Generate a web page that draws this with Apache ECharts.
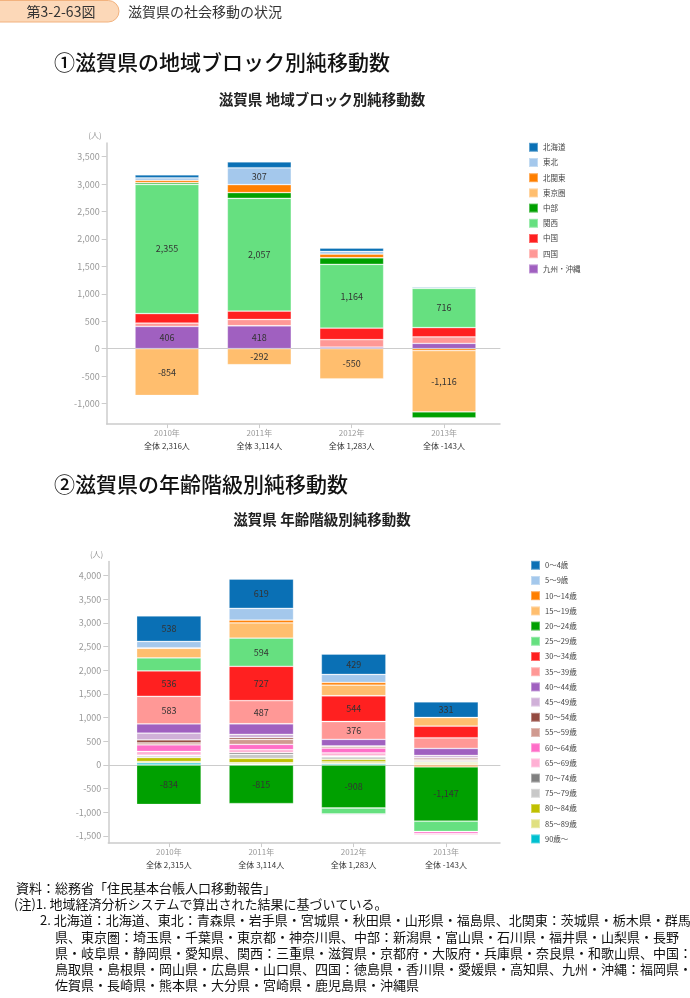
<!DOCTYPE html>
<html><head><meta charset="utf-8">
<script src="https://cdn.jsdelivr.net/npm/echarts@6/dist/echarts.min.js"></script>
<style>html,body{margin:0;padding:0;background:#fff}#c{width:690px;height:998px}</style>
</head><body><div id="c"></div>
<script>
// ---------- data ----------
const years = ['2010年', '2011年', '2012年', '2013年'];

// chart 1: regional blocks
const regionNames = ['北海道', '東北', '北関東', '東京圏', '中部', '関西', '中国', '四国', '九州・沖縄'];
const regionTotals = [2316, 3114, 1283, -143];
const hokkaido = [55, 108, 60, 18];
const tohoku = [48, 307, 50, 0];
const kitakanto = [42, 146, 65, -35];
const tokyoken = [-854, -292, -550, -1116];
const chubu = [30, 103, 120, -110];
const kansai = [2355, 2057, 1164, 716];
const chugoku = [173, 152, 210, 170];
const shikoku = [61, 115, 134, 117];
const kyushu = [406, 418, 30, 97];
const regionValues = [hokkaido, tohoku, kitakanto, tokyoken, chubu, kansai, chugoku, shikoku, kyushu];

// chart 2: age groups
const ageNames = ['0～4歳', '5～9歳', '10～14歳', '15～19歳', '20～24歳', '25～29歳', '30～34歳', '35～39歳', '40～44歳', '45～49歳',
  '50～54歳', '55～59歳', '60～64歳', '65～69歳', '70～74歳', '75～79歳', '80～84歳', '85～89歳', '90歳～'];
const ageTotals = [2315, 3114, 1283, -143];
const age0 = [538, 619, 429, 331];
const age5 = [134, 250, 170, 0];
const age10 = [10, 56, 56, -40];
const age15 = [204, 324, 225, 183];
const age20 = [-834, -815, -908, -1147];
const age25 = [275, 594, -127, -218];
const age30 = [536, 727, 544, 246];
const age35 = [583, 487, 376, 225];
const age40 = [197, 225, 141, 148];
const age45 = [141, 70, -25, 49];
const age50 = [63, 35, 10, 28];
const age55 = [42, 106, 35, 35];
const age60 = [141, 113, 99, -43];
const age65 = [77, 63, 63, -30];
const age70 = [15, 35, 21, 0];
const age75 = [35, 85, 56, 30];
const age80 = [85, 92, 50, 20];
const age85 = [28, 28, 40, 30];
const age90 = [45, 20, 28, 10];
const ageValues = [age0, age5, age10, age15, age20, age25, age30, age35, age40, age45, age50, age55, age60, age65, age70, age75, age80, age85, age90];

const yTicks1 = [-1000, -500, 0, 500, 1000, 1500, 2000, 2500, 3000, 3500];
const yTicks2 = [-1500, -1000, -500, 0, 500, 1000, 1500, 2000, 2500, 3000, 3500, 4000];

// ---------- style ----------
const palette = ['#0a70b5', '#a4c8ec', '#ff7f00', '#ffbe6e', '#00a000', '#66e080', '#ff2020', '#ff9896', '#a060c0',
  '#d0b0d8', '#944a40', '#d09a90', '#ff6ec8', '#ffb0d4', '#808080', '#c8c8c8', '#c0c000', '#e0e080', '#00c0d0'];
const FONT = '"Noto Sans CJK JP", "Noto Sans", sans-serif';
const AXC = '#cccccc';
function fmt(v) { return Number(v).toLocaleString('en-US'); }

function buildSeries(names, values, xIdx, yIdx, stack, bw, thr) {
  const out = [];
  const mk = (i, sign) => ({
    type: 'bar', name: names[i], stack: stack, xAxisIndex: xIdx, yAxisIndex: yIdx,
    barWidth: bw,
    itemStyle: { color: palette[i], borderColor: 'rgba(255,255,255,0.35)', borderWidth: 0.8 },
    label: {
      show: true, position: 'inside', fontSize: 9, color: '#333', fontFamily: FONT,
      formatter: p => Math.abs(p.value) >= thr ? fmt(p.value) : ''
    },
    emphasis: { disabled: true },
    data: values[i].map(v => (sign > 0 ? (v > 0 ? v : '-') : (v < 0 ? v : '-')))
  });
  for (let i = names.length - 1; i >= 0; i--) out.push(mk(i, 1));
  for (let i = 0; i < names.length; i++) out.push(mk(i, -1));
  return out;
}

function catAxis(gridIndex, totals) {
  return {
    type: 'category', gridIndex, data: years, position: 'bottom',
    axisLine: { show: false, onZero: false },
    axisTick: { show: true, alignWithLabel: true, interval: 0, length: 4, lineStyle: { color: AXC } },
    axisLabel: {
      margin: 2, interval: 0,
      formatter: (v, i) => '{a|' + v + '}\n{b|全体 ' + fmt(totals[i]) + '人}',
      rich: {
        a: { fontSize: 8, color: '#999', lineHeight: 13, fontFamily: FONT },
        b: { fontSize: 8, color: '#333', lineHeight: 14, fontFamily: FONT }
      }
    },
    splitLine: { show: false }
  };
}
function frameX(gridIndex, zero) {
  return {
    type: 'value', gridIndex, min: 0, max: 1, position: zero ? 'top' : 'bottom',
    axisLine: { show: true, onZero: zero, lineStyle: { color: AXC, width: zero ? 1 : 1.5 } },
    axisTick: { show: false }, axisLabel: { show: false }, splitLine: { show: false }
  };
}
function hiddenY(gridIndex, min, max) {
  return { type: 'value', gridIndex, min, max, show: false, splitLine: { show: false } };
}
function frameY(gridIndex, min, max, ticks) {
  return {
    type: 'value', gridIndex, min, max,
    name: '(人)', nameLocation: 'end', nameGap: 4,
    nameTextStyle: { fontSize: 8, color: '#999', align: 'right', padding: [0, 5, 0, 0], fontFamily: FONT },
    axisLine: { show: true, lineStyle: { color: AXC, width: 1.5 } },
    axisTick: { show: true, length: 5, customValues: ticks, lineStyle: { color: AXC } },
    axisLabel: { customValues: ticks, margin: 7, fontSize: 9, color: '#999', fontFamily: FONT, formatter: v => fmt(v) },
    splitLine: { show: false }
  };
}

const Y1 = [-1375, 3750], Y2 = [-1650, 4300];

const option = {
  animation: false,
  backgroundColor: '#fff',
  textStyle: { fontFamily: FONT },
  grid: [
    { left: 120.8, right: 199.8, top: 143, bottom: 573.9 },
    { left: 106.7, right: 190, top: 143, bottom: 573.9 },
    { left: 122.7, right: 197.8, top: 561.5, bottom: 154.9 },
    { left: 108.3, right: 190, top: 561.5, bottom: 154.9 }
  ],
  xAxis: [
    catAxis(0, regionTotals),
    frameX(1, false), frameX(1, true),
    catAxis(2, ageTotals),
    frameX(3, false), frameX(3, true)
  ],
  yAxis: [
    hiddenY(0, Y1[0], Y1[1]),
    frameY(1, Y1[0], Y1[1], yTicks1),
    hiddenY(2, Y2[0], Y2[1]),
    frameY(3, Y2[0], Y2[1], yTicks2)
  ],
  legend: [
    {
      data: regionNames, orient: 'vertical', left: 528, top: 141.8, padding: 0,
      itemWidth: 9, itemHeight: 9, itemGap: 4.2, icon: 'rect', selectedMode: false,
      textStyle: { fontSize: 7.5, color: '#444', lineHeight: 9, fontFamily: FONT }
    },
    {
      data: ageNames, orient: 'vertical', left: 530, top: 559.8, padding: 0,
      itemWidth: 9, itemHeight: 9, itemGap: 4.2, icon: 'rect', selectedMode: false,
      textStyle: { fontSize: 7.5, color: '#444', lineHeight: 9, fontFamily: FONT }
    }
  ],
  series: [
    ...buildSeries(regionNames, regionValues, 0, 0, 'r', 64, 280),
    ...buildSeries(ageNames, ageValues, 3, 2, 'a', 64.6, 328)
  ],
  graphic: [
    { type: 'rect', shape: { x: -12, y: 0.5, width: 131, height: 21.5, r: 10.75 }, style: { fill: '#fcd8b8', stroke: '#f2b27e', lineWidth: 1 } },
    { type: 'text', x: 61, y: 11.5, style: { text: '第3-2-63図', fontSize: 14, fontFamily: FONT, fill: '#333', align: 'center', verticalAlign: 'middle' } },
    { type: 'text', x: 128, y: 11.5, style: { text: '滋賀県の社会移動の状況', fontSize: 14, fontFamily: FONT, fill: '#333', align: 'left', verticalAlign: 'middle' } },
    { type: 'text', x: 54, y: 62, style: { text: '①滋賀県の地域ブロック別純移動数', fontSize: 21, fontWeight: 500, fontFamily: FONT, fill: '#111', align: 'left', verticalAlign: 'middle' } },
    { type: 'text', x: 322, y: 99, style: { text: '滋賀県 地域ブロック別純移動数', fontSize: 14.5, fontWeight: 'bold', fontFamily: FONT, fill: '#222', align: 'center', verticalAlign: 'middle' } },
    { type: 'text', x: 54, y: 484, style: { text: '②滋賀県の年齢階級別純移動数', fontSize: 21, fontWeight: 500, fontFamily: FONT, fill: '#111', align: 'left', verticalAlign: 'middle' } },
    { type: 'text', x: 322, y: 519, style: { text: '滋賀県 年齢階級別純移動数', fontSize: 14.5, fontWeight: 'bold', fontFamily: FONT, fill: '#222', align: 'center', verticalAlign: 'middle' } },
    { type: 'text', x: 16, y: 888, style: { text: '資料：総務省「住民基本台帳人口移動報告」', fontSize: 13, fontFamily: FONT, fill: '#111', verticalAlign: 'middle' } },
    { type: 'text', x: 14, y: 904, style: { text: '(注)1. 地域経済分析システムで算出された結果に基づいている。', fontSize: 13, fontFamily: FONT, fill: '#111', verticalAlign: 'middle' } },
    { type: 'text', x: 40, y: 920, style: { text: '2. 北海道：北海道、東北：青森県・岩手県・宮城県・秋田県・山形県・福島県、北関東：茨城県・栃木県・群馬', fontSize: 13, fontFamily: FONT, fill: '#111', verticalAlign: 'middle' } },
    { type: 'text', x: 55, y: 937, style: { text: '県、東京圏：埼玉県・千葉県・東京都・神奈川県、中部：新潟県・富山県・石川県・福井県・山梨県・長野', fontSize: 13, fontFamily: FONT, fill: '#111', verticalAlign: 'middle' } },
    { type: 'text', x: 55, y: 953, style: { text: '県・岐阜県・静岡県・愛知県、関西：三重県・滋賀県・京都府・大阪府・兵庫県・奈良県・和歌山県、中国：', fontSize: 13, fontFamily: FONT, fill: '#111', verticalAlign: 'middle' } },
    { type: 'text', x: 55, y: 969, style: { text: '鳥取県・島根県・岡山県・広島県・山口県、四国：徳島県・香川県・愛媛県・高知県、九州・沖縄：福岡県・', fontSize: 13, fontFamily: FONT, fill: '#111', verticalAlign: 'middle' } },
    { type: 'text', x: 55, y: 985, style: { text: '佐賀県・長崎県・熊本県・大分県・宮崎県・鹿児島県・沖縄県', fontSize: 13, fontFamily: FONT, fill: '#111', verticalAlign: 'middle' } }
  ]
};
const chart = echarts.init(document.getElementById('c'), null, { renderer: 'canvas' });
chart.setOption(option);
</script>
</body></html>
